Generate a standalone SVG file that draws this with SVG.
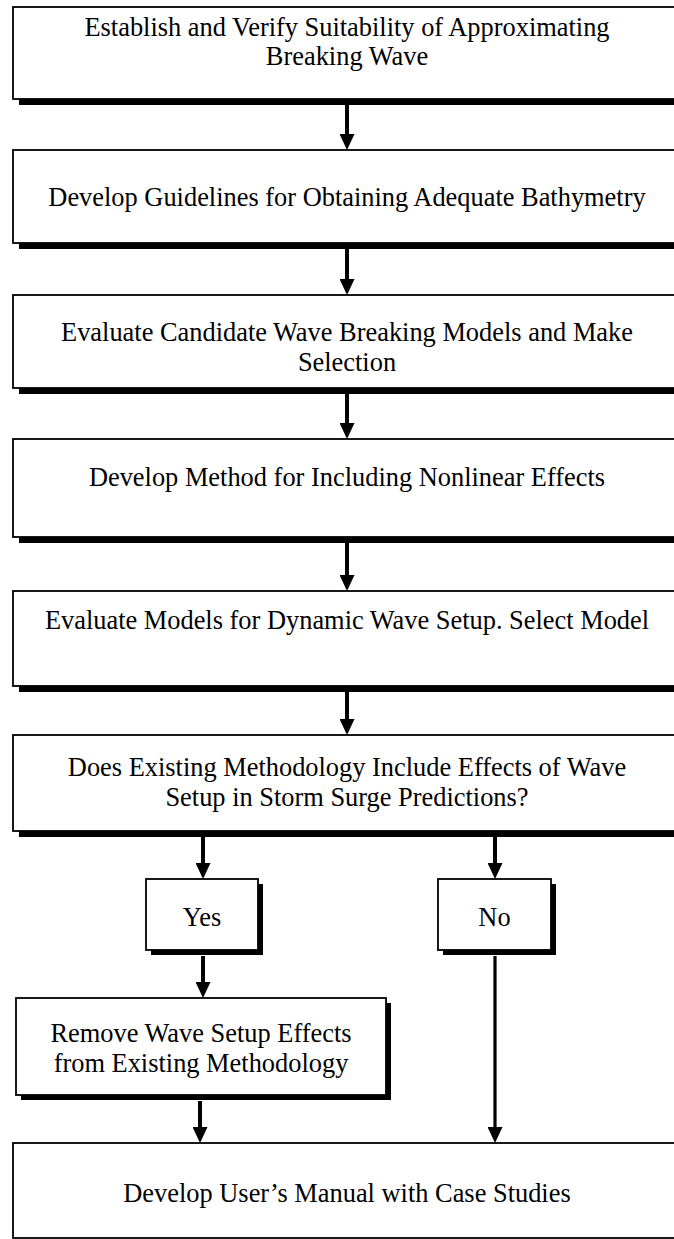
<svg xmlns="http://www.w3.org/2000/svg" width="674" height="1239" viewBox="0 0 674 1239">
<defs>
<style>
.box{fill:#fff;stroke:#000;stroke-width:1.8}
.sh{fill:#000}
.t{font-family:"Liberation Serif","Times New Roman",serif;font-size:26.4px;fill:#000;text-anchor:middle}
.c{stroke:#000;stroke-width:4;fill:none}
.c2{stroke:#000;stroke-width:3.2;fill:none}
</style>
<marker id="ah" markerWidth="16" markerHeight="15" refX="6" refY="7.5" orient="auto" markerUnits="userSpaceOnUse">
<path d="M0,0 L16,7.5 L0,15 z" fill="#000"/>
</marker>
</defs>
<rect width="674" height="1239" fill="#fff"/>
<g id="connectors">
<line class="c" x1="347" y1="105" x2="347" y2="140" marker-end="url(#ah)"/>
<line class="c" x1="347" y1="249" x2="347" y2="285" marker-end="url(#ah)"/>
<line class="c" x1="347" y1="394" x2="347" y2="429" marker-end="url(#ah)"/>
<line class="c" x1="347" y1="543" x2="347" y2="581" marker-end="url(#ah)"/>
<line class="c" x1="347" y1="692" x2="347" y2="725" marker-end="url(#ah)"/>
<line class="c" x1="203" y1="837" x2="203" y2="869" marker-end="url(#ah)"/>
<line class="c" x1="495" y1="837" x2="495" y2="869" marker-end="url(#ah)"/>
<line class="c" x1="203" y1="956" x2="203" y2="988" marker-end="url(#ah)"/>
<line class="c" x1="200" y1="1101" x2="200" y2="1133" marker-end="url(#ah)"/>
<line class="c2" x1="495" y1="956" x2="495" y2="1133" marker-end="url(#ah)"/>
</g>
<g id="n1">
<rect class="sh" x="19" y="13" width="680" height="92"/>
<rect class="box" x="13" y="7" width="680" height="92"/>
<text class="t" x="347" y="36">Establish and Verify Suitability of Approximating</text>
<text class="t" x="347" y="65">Breaking Wave</text>
</g>
<g id="n2">
<rect class="sh" x="19" y="156" width="680" height="93"/>
<rect class="box" x="13" y="150" width="680" height="93"/>
<text class="t" x="347" y="206">Develop Guidelines for Obtaining Adequate Bathymetry</text>
</g>
<g id="n3">
<rect class="sh" x="19" y="301" width="680" height="93"/>
<rect class="box" x="13" y="295" width="680" height="93"/>
<text class="t" x="347" y="341">Evaluate Candidate Wave Breaking Models and Make</text>
<text class="t" x="347" y="371">Selection</text>
</g>
<g id="n4">
<rect class="sh" x="19" y="445" width="680" height="98"/>
<rect class="box" x="13" y="439" width="680" height="98"/>
<text class="t" x="347" y="486">Develop Method for Including Nonlinear Effects</text>
</g>
<g id="n5">
<rect class="sh" x="19" y="597" width="680" height="95"/>
<rect class="box" x="13" y="591" width="680" height="95"/>
<text class="t" x="347" y="629">Evaluate Models for Dynamic Wave Setup. Select Model</text>
</g>
<g id="n6">
<rect class="sh" x="19" y="741" width="680" height="96"/>
<rect class="box" x="13" y="735" width="680" height="96"/>
<text class="t" x="347" y="776">Does Existing Methodology Include Effects of Wave</text>
<text class="t" x="347" y="806">Setup in Storm Surge Predictions?</text>
</g>
<g id="yes">
<rect class="sh" x="151" y="884" width="112" height="71"/>
<rect class="box" x="146" y="879" width="112" height="71"/>
<text class="t" x="202" y="926">Yes</text>
</g>
<g id="no">
<rect class="sh" x="443" y="884" width="113" height="71"/>
<rect class="box" x="438" y="879" width="113" height="71"/>
<text class="t" x="494.5" y="926">No</text>
</g>
<g id="remove">
<rect class="sh" x="21" y="1003" width="370" height="97"/>
<rect class="box" x="16" y="998" width="370" height="97"/>
<text class="t" x="201" y="1042">Remove Wave Setup Effects</text>
<text class="t" x="201" y="1072">from Existing Methodology</text>
</g>
<g id="n7">
<rect class="box" x="13" y="1143" width="680" height="95"/>
<text class="t" x="347" y="1202">Develop User’s Manual with Case Studies</text>
</g>
</svg>
